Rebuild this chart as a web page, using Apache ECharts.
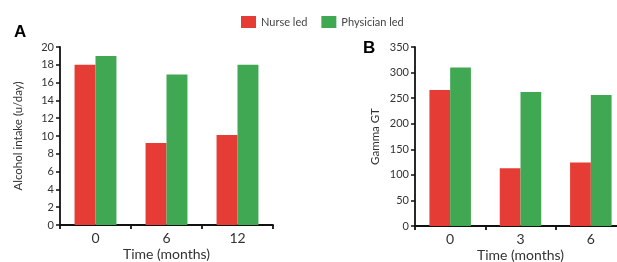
<!DOCTYPE html>
<html><head><meta charset="utf-8">
<script src="https://cdn.jsdelivr.net/npm/echarts@6/dist/echarts.min.js"></script>
<style>html,body{margin:0;padding:0;background:#fff}#c{width:617px;height:262px}</style>
</head><body><div id="c"></div>
<script>
const seriesNames = ['Nurse led', 'Physician led'];
const catsA = ['0', '6', '12'];
const nurseA = [18, 9.2, 10.1];
const physA = [19, 16.9, 18];
const catsB = ['0', '3', '6'];
const nurseB = [266, 113, 124];
const physB = [310, 262, 256];
const RED = '#e53d35', GREEN = '#40a852';
const FONT = 'Lato';
const chart = echarts.init(document.getElementById('c'));
function xAxis(idx, cats){
  return {type:'category', gridIndex:idx, data:cats,
    axisLine:{lineStyle:{color:'#111', width:1.8}},
    axisTick:{show:true, length:4, lineStyle:{color:'#111', width:1.8}},
    axisLabel:{color:'#333', fontSize:14, fontFamily:FONT, margin:6},
    name:'Time (months)', nameLocation:'middle', nameGap:22, nameMoveOverlap:false,
    nameTextStyle:{color:'#333', fontSize:14, fontFamily:FONT}};
}
function yAxis(idx, max, interval, name, gap){
  return {type:'value', gridIndex:idx, min:0, max:max, interval:interval,
    axisLine:{show:true, lineStyle:{color:'#111', width:1.8}},
    axisTick:{show:true, length:4, lineStyle:{color:'#111', width:1.5}},
    splitLine:{show:false},
    axisLabel:{color:'#333', fontSize:11, fontFamily:FONT, margin:6},
    name:name, nameLocation:'middle', nameGap:gap, nameMoveOverlap:false,
    nameTextStyle:{color:'#333', fontSize:11.5, fontFamily:FONT}};
}
const barCommon = {type:'bar', barGap:'0%', barCategoryGap:'41%'};
chart.setOption({
  animation:false,
  textStyle:{fontFamily:FONT},
  title:[
    {text:'A', left:9, top:19, textStyle:{fontSize:17, fontWeight:'bold', color:'#000', fontFamily:'Liberation Sans'}},
    {text:'B', left:358, top:35, textStyle:{fontSize:17, fontWeight:'bold', color:'#000', fontFamily:'Liberation Sans'}}
  ],
  legend:{left:236, top:11, itemWidth:15, itemHeight:12, itemGap:14, icon:'rect',
    textStyle:{color:'#444', fontSize:11, fontFamily:FONT}, data:seriesNames},
  grid:[
    {left:60, right:344, top:47, bottom:37, outerBoundsMode:'none', containLabel:false},
    {left:415, right:-9, top:47, bottom:36, outerBoundsMode:'none', containLabel:false}
  ],
  xAxis:[xAxis(0, catsA), xAxis(1, catsB)],
  yAxis:[yAxis(0, 20, 2, 'Alcohol intake (u/day)', 36), yAxis(1, 350, 50, 'Gamma GT', 34)],
  series:[
    Object.assign({name:seriesNames[0], xAxisIndex:0, yAxisIndex:0, data:nurseA, itemStyle:{color:RED}}, barCommon),
    Object.assign({name:seriesNames[1], xAxisIndex:0, yAxisIndex:0, data:physA, itemStyle:{color:GREEN}}, barCommon),
    Object.assign({name:seriesNames[0], xAxisIndex:1, yAxisIndex:1, data:nurseB, itemStyle:{color:RED}}, barCommon),
    Object.assign({name:seriesNames[1], xAxisIndex:1, yAxisIndex:1, data:physB, itemStyle:{color:GREEN}}, barCommon)
  ]
});
</script></body></html>
